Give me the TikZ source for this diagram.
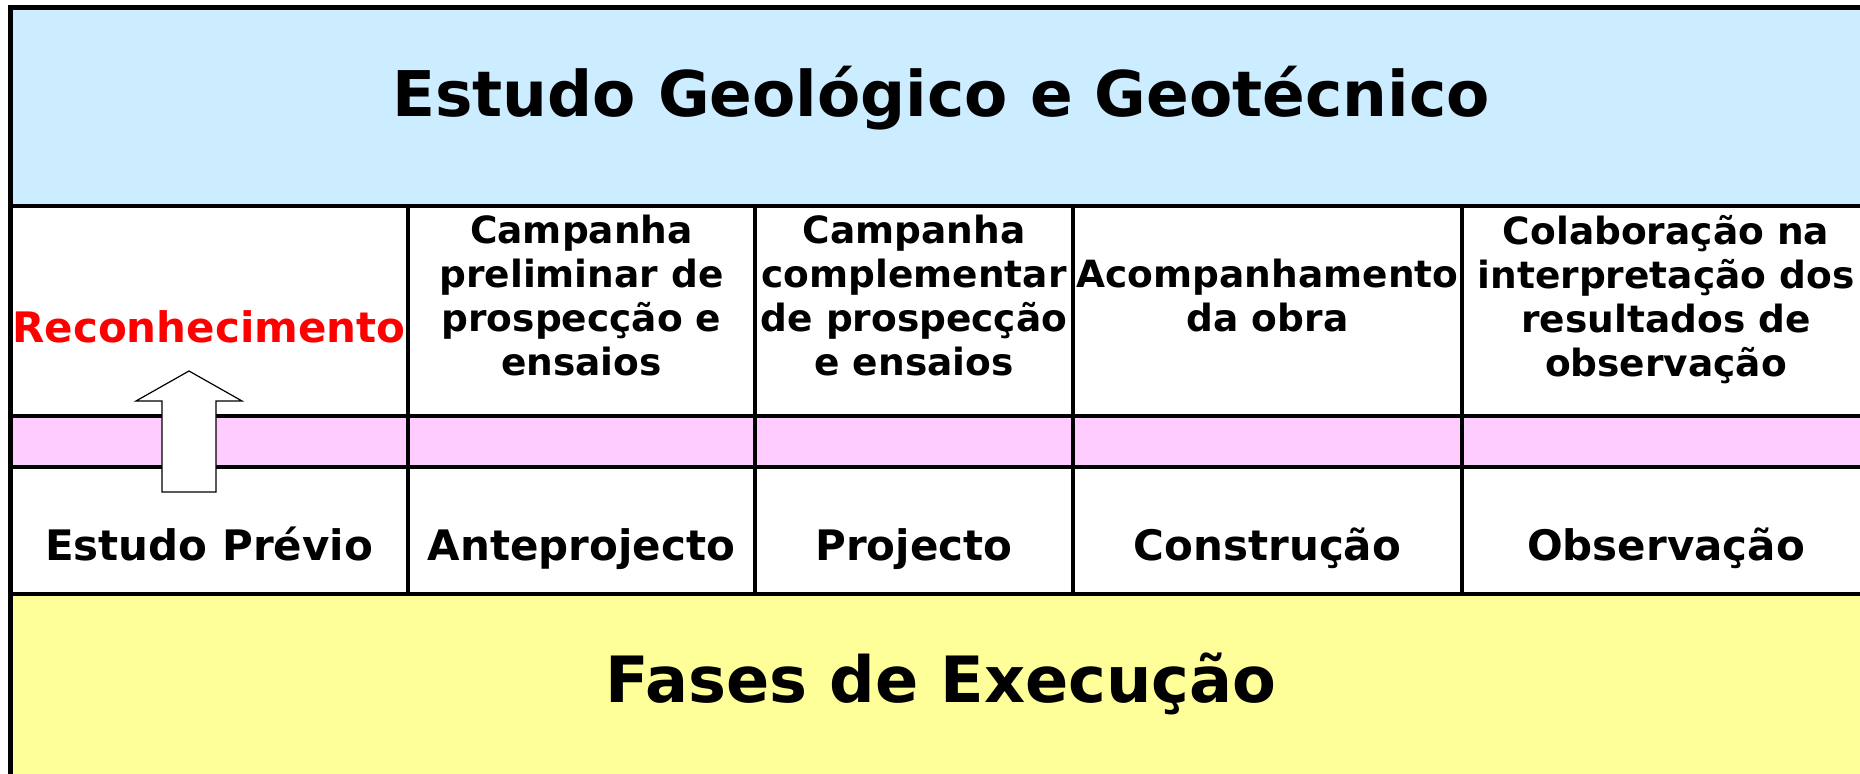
\documentclass[tikz,border=0pt]{standalone}
\usepackage{fontspec}
\setmainfont{DejaVu Sans}
\definecolor{blueband}{HTML}{CCECFF}
\definecolor{pinkband}{HTML}{FFCCFF}
\definecolor{yellowband}{HTML}{FFFF99}
\definecolor{redtext}{HTML}{FF0000}
\begin{document}
\begin{tikzpicture}[x=0.5pt,y=-0.5pt,
  hline/.style={line width=2.25pt},
  vline/.style={line width=2pt},
  framel/.style={line width=2.5pt},
  cell/.style={inner sep=0pt, font=\bfseries\fontsize{18.75pt}{22pt}\selectfont, align=center, anchor=north},
  phase/.style={inner sep=0pt, font=\bfseries\fontsize{21pt}{25pt}\selectfont, anchor=base},
  band/.style={inner sep=0pt, font=\bfseries\fontsize{31.5pt}{38pt}\selectfont, anchor=base},
  redlabel/.style={inner sep=0pt, font=\bfseries\fontsize{21pt}{25pt}\selectfont, text=redtext, anchor=base},
  blockarrow/.style={line width=0.6pt, fill=white, line join=miter},
]
\useasboundingbox (0,0) rectangle (1860,774);
\clip (0,0) rectangle (1860,774);
\fill[white] (0,0) rectangle (1860,774);
% bands
\fill[blueband] (10,7) rectangle (1880,206);
\fill[pinkband] (10,416) rectangle (1880,467);
\fill[yellowband] (10,594) rectangle (1880,790);
% frame and grid
\draw[hline] (10,206) -- (1880,206);
\draw[hline] (10,416) -- (1880,416);
\draw[hline] (10,467) -- (1880,467);
\draw[hline] (10,594) -- (1880,594);
\draw[vline] (408,206) -- (408,594);
\draw[vline] (755,206) -- (755,594);
\draw[vline] (1073,206) -- (1073,594);
\draw[vline] (1462,206) -- (1462,594);
\draw[framel] (10,790) -- (10,7.5) -- (1880,7.5);
% texts
\node[band] (title) at (941,117) {Estudo Geológico e Geotécnico};
\node[band, font=\bfseries\fontsize{31.9pt}{38pt}\selectfont] (fases) at (941,703) {Fases de Execução};
\node[redlabel] (recon) at (209,343) {Reconhecimento};
\node[cell] (c2) at (581.5,215) {Campanha\\preliminar de\\prospecção e\\ensaios};
\node[cell] (c3) at (914,215) {Campanha\\complementar\\de prospecção\\e ensaios};
\node[cell] (c4) at (1267.5,259) {Acompanhamento\\da obra};
\node[cell] (c5) at (1666,215) {Colaboração na\\interpretação dos\\resultados de\\observação};
\node[phase] (p1) at (209,561) {Estudo Prévio};
\node[phase] (p2) at (581.5,561) {Anteprojecto};
\node[phase] (p3) at (914,561) {Projecto};
\node[phase] (p4) at (1267.5,561) {Construção};
\node[phase] (p5) at (1666,561) {Observação};
% block arrow
\draw[blockarrow] (189,371) -- (242,401) -- (216,401) -- (216,492) -- (162,492) -- (162,401) -- (136,401) -- cycle;
\end{tikzpicture}
\end{document}
